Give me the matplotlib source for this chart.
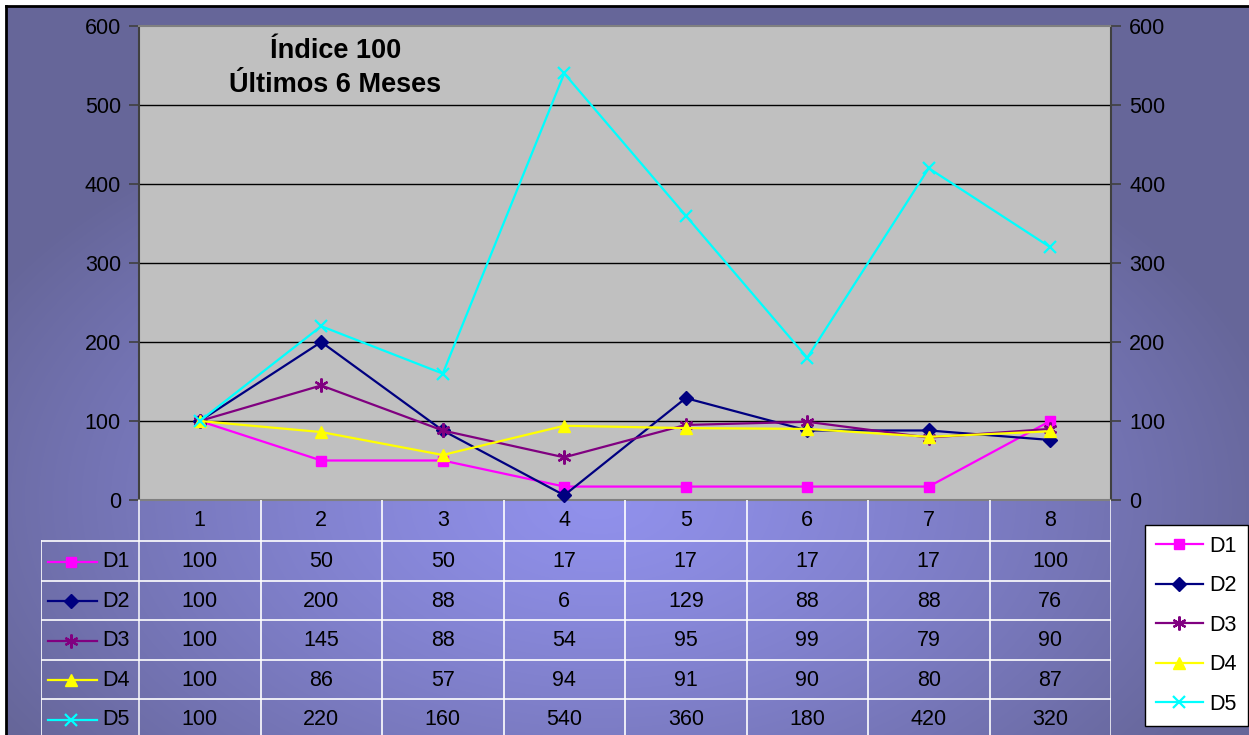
import numpy as np
import matplotlib.pyplot as plt
from matplotlib.lines import Line2D

plt.rcParams['font.family'] = ['Liberation Sans', 'DejaVu Sans']

# data
categories = [1, 2, 3, 4, 5, 6, 7, 8]
series_names = ['D1', 'D2', 'D3', 'D4', 'D5']
d1 = [100, 50, 50, 17, 17, 17, 17, 100]
d2 = [100, 200, 88, 6, 129, 88, 88, 76]
d3 = [100, 145, 88, 54, 95, 99, 79, 90]
d4 = [100, 86, 57, 94, 91, 90, 80, 87]
d5 = [100, 220, 160, 540, 360, 180, 420, 320]
values = [d1, d2, d3, d4, d5]

colors = ['#FF00FF', '#000080', '#800080', '#FFFF00', '#00FFFF']
markers = ['s', 'D', (6, 2, 0), '^', 'x']
msizes = [7, 7, 10, 9, 9]
fs = 15.5

W, H = 1249, 735
fig = plt.figure(figsize=(W / 100, H / 100), dpi=100)

# background gradient
bg = fig.add_axes([0, 0, 1, 1], zorder=-10)
yy, xx = np.mgrid[0:H, 0:W]
d = np.sqrt(((xx - 600) / 700.0) ** 2 + ((yy - 500) / 430.0) ** 2)
d = np.clip(d, 0, 1) ** 1.2
c_in = np.array([145, 145, 236]) / 255.0
c_out = np.array([102, 102, 153]) / 255.0
img = c_in[None, None, :] * (1 - d[..., None]) + c_out[None, None, :] * d[..., None]
img[:6, :, :] = 1.0
img[:, :6, :] = 1.0
bg.imshow(img, extent=(0, W, H, 0), aspect='auto', interpolation='bilinear')
bg.plot([6, 6], [H, 6], color='black', lw=2)
bg.plot([6, W], [6, 6], color='black', lw=2)
bg.set_xlim(0, W)
bg.set_ylim(H, 0)
bg.axis('off')

# main plot
px_l, px_r, px_t, px_b = 139, 1111, 26, 500
ax = fig.add_axes([px_l / W, 1 - px_b / H, (px_r - px_l) / W, (px_b - px_t) / H])
ax.set_facecolor('#C0C0C0')
x = np.arange(1, len(categories) + 1)
for vals, name, c, m, ms in zip(values, series_names, colors, markers, msizes):
    ax.plot(x, vals, color=c, marker=m, markersize=ms, lw=1.6, label=name,
            markeredgewidth=1.6 if m in ('x', (6, 2, 0)) else 1, clip_on=False, zorder=3)
ax.set_xlim(0.5, 8.5)
ax.set_ylim(0, 600)
ax.set_yticks(range(0, 601, 100))
for yv in range(100, 600, 100):
    ax.axhline(yv, color='black', lw=1, zorder=1)
ax.set_xticks([])
ax.tick_params(axis='y', direction='out', length=7, width=1.2, colors='#404040',
               labelsize=fs, labelcolor='black', pad=6)
for s in ['left', 'right']:
    ax.spines[s].set_color('#404040')
    ax.spines[s].set_linewidth(1.5)
for s in ['top', 'bottom']:
    ax.spines[s].set_color('#808080')
    ax.spines[s].set_linewidth(1.5)
ax2 = ax.twinx()
ax2.set_ylim(0, 600)
ax2.set_yticks(range(0, 601, 100))
ax2.tick_params(axis='y', direction='out', length=7, width=1.2, colors='#404040',
                labelsize=fs, labelcolor='black', pad=6)
for s in ax2.spines.values():
    s.set_visible(False)

ax.text(0.202, 0.911, 'Índice 100\nÚltimos 6 Meses', transform=ax.transAxes,
        ha='center', va='center', fontsize=19.5, fontweight='bold', linespacing=1.43)

# data table under the plot
col_w = (px_r - px_l) / len(categories)
tab_l = 41
tax = fig.add_axes([tab_l / W, 0, (px_r - tab_l) / W, (H - px_b) / H])
tax.set_xlim(0.5 - (px_l - tab_l) / col_w, 8.5)
tax.set_ylim(H - px_b, 0)
tax.axis('off')
head_h, row_h = 41, 39.5
x_left = 0.5 - (px_l - tab_l) / col_w
for b in np.arange(0.5, 9.0, 1.0):
    tax.plot([b, b], [0, H], color='white', lw=1.2, alpha=0.9 if b in (0.5, 8.5) else 1)
for i in range(len(series_names) + 1):
    yl = head_h + i * row_h
    tax.plot([x_left, 8.5], [yl, yl], color='white', lw=1.2)
tax.plot([x_left, x_left], [head_h, H], color='white', lw=1.2)
for xi, cat in zip(x, categories):
    tax.text(xi, head_h / 2, str(cat), ha='center', va='center', fontsize=fs)
for i, (vals, name, c, m, ms) in enumerate(zip(values, series_names, colors, markers, msizes)):
    yc = head_h + row_h * (i + 0.5) + 1
    for xi, v in zip(x, vals):
        tax.text(xi, yc, str(v), ha='center', va='center', fontsize=fs)
    tax.plot([x_left + 0.057, x_left + 0.46], [yc, yc], color=c, lw=1.6)
    tax.plot([x_left + 0.247], [yc], color=c, marker=m, markersize=ms,
             markeredgewidth=1.6 if m in ('x', (6, 2, 0)) else 1)
    tax.text(x_left + 0.5, yc, name, ha='left', va='center', fontsize=fs)

# legend
handles = [Line2D([0], [0], color=c, marker=m, markersize=ms, lw=1.6,
                  markeredgewidth=1.6 if m in ('x', (6, 2, 0)) else 1)
           for c, m, ms in zip(colors, markers, msizes)]
leg = fig.legend(handles, series_names, loc='upper left',
                 bbox_to_anchor=(1145 / W, 1 - 525 / H), fontsize=fs,
                 frameon=True, fancybox=False, edgecolor='black', framealpha=1,
                 handlelength=2.2, labelspacing=0.86, borderpad=0.5,
                 handletextpad=0.3, borderaxespad=0)
leg.get_frame().set_linewidth(1)

fig.savefig('out.png', dpi=100)
